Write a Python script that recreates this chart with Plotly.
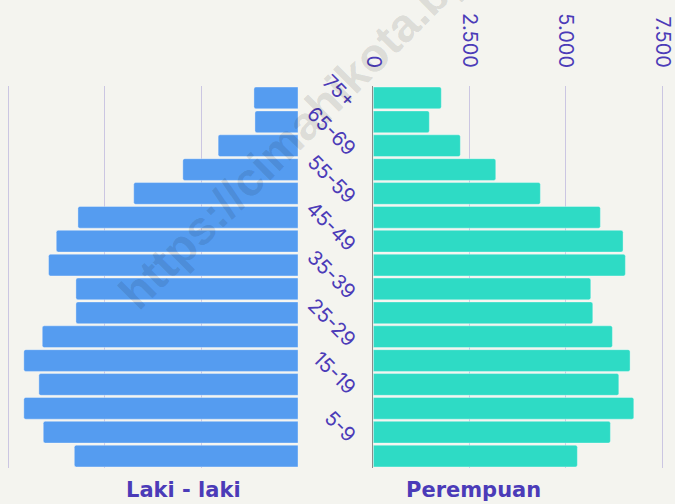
import plotly.graph_objects as go
from plotly.subplots import make_subplots

age_groups = ["0-4", "5-9", "10-14", "15-19", "20-24", "25-29", "30-34", "35-39",
              "40-44", "45-49", "50-54", "55-59", "60-64", "65-69", "70-74", "75+"]
laki_laki = [5785, 6588, 7091, 6702, 7091, 6614, 5744, 5744,
             6451, 6252, 5692, 4249, 2979, 2065, 1114, 1140]
perempuan = [5296, 6153, 6760, 6371, 6664, 6205, 5696, 5644,
             6542, 6482, 5893, 4336, 3178, 2259, 1454, 1765]
shown_age_labels = ["5-9", "15-19", "25-29", "35-39", "45-49", "55-59", "65-69", "75+"]
x_tick_vals = [0, 2500, 5000, 7500]
x_tick_text = ["0", "2.500", "5.000", "7.500"]

BLUE = "#559CF0"
TEAL = "#2EDBC5"
TXT = "#4B3BB8"
GRID = "#CBC6E2"
BG = "#F4F4EF"
FONT = "Inter, Roboto, DejaVu Sans, sans-serif"

W, H = 675, 504
ML, MR, MT, MB = 0, 0, 86, 36
pw = W - ML - MR
ph = H - MT - MB

def px(xp):
    return (xp - ML) / pw

def py(yp):
    return (H - MB - yp) / ph

XMAX = 7560
sl = (298 - 8) / 7500.0
sr = (662.3 - 373.3) / 7500.0
left_dom = [px(298 - XMAX * sl), px(298)]
right_dom = [px(373.3), px(373.3 + XMAX * sr)]

fig = make_subplots(rows=1, cols=2, shared_yaxes=False, horizontal_spacing=0)

fig.add_trace(go.Bar(
    y=age_groups, x=laki_laki, orientation="h", name="Laki - laki",
    marker=dict(color=BLUE, line=dict(color="rgba(255,255,255,0.35)", width=1), cornerradius=2),
    showlegend=False, hoverinfo="x+y"), row=1, col=1)
fig.add_trace(go.Bar(
    y=age_groups, x=perempuan, orientation="h", name="Perempuan",
    marker=dict(color=TEAL, line=dict(color="rgba(255,255,255,0.35)", width=1), cornerradius=2),
    showlegend=False, hoverinfo="x+y"), row=1, col=2)

fig.update_layout(
    template="none",
    width=W, height=H,
    margin=dict(l=ML, r=MR, t=MT, b=MB, pad=0),
    paper_bgcolor=BG, plot_bgcolor=BG,
    bargap=0.09,
    font=dict(family=FONT, color=TXT, size=20),
    xaxis=dict(domain=left_dom, range=[XMAX, 0], tickvals=x_tick_vals,
               showticklabels=False, showgrid=True, gridcolor=GRID, gridwidth=1,
               zeroline=False, showline=False, fixedrange=True, automargin=False, ticks=""),
    xaxis2=dict(domain=right_dom, range=[0, XMAX], side="top",
                tickvals=x_tick_vals, ticktext=x_tick_text, tickangle=90,
                ticks="", ticklabelstandoff=14, automargin=False,
                showgrid=True, gridcolor=GRID, gridwidth=1,
                zeroline=False, showline=False, fixedrange=True,
                tickfont=dict(family=FONT, color=TXT, size=20)),
    yaxis=dict(categoryorder="array", categoryarray=age_groups, automargin=False,
               showticklabels=False, showgrid=False, zeroline=False, showline=False, ticks=""),
    yaxis2=dict(categoryorder="array", categoryarray=age_groups, automargin=False,
                tickvals=shown_age_labels, ticktext=shown_age_labels,
                tickangle=45, ticks="", ticklabelstandoff=14, ticklabelshift=7,
                showgrid=False, zeroline=False,
                showline=True, linecolor="#8C8C8C", linewidth=1,
                tickfont=dict(family=FONT, color=TXT, size=20)),
)

fig.add_annotation(text="<b>Laki - laki</b>", x=px(183), y=py(490), xref="paper", yref="paper",
                   showarrow=False, xanchor="center", yanchor="middle",
                   font=dict(family="DejaVu Sans, sans-serif", size=21, color=TXT))
fig.add_annotation(text="<b>Perempuan</b>", x=px(473), y=py(490), xref="paper", yref="paper",
                   showarrow=False, xanchor="center", yanchor="middle",
                   font=dict(family="DejaVu Sans, sans-serif", size=21, color=TXT))

fig.add_annotation(text="<b>https://cimahikota.bps.go.id</b>", x=px(348), y=py(80),
                   xref="paper", yref="paper", showarrow=False, textangle=-45,
                   xanchor="center", yanchor="middle",
                   font=dict(family="Liberation Sans, Arial, sans-serif", size=47,
                             color="rgba(0,0,0,0.11)"))

fig.write_html("out.html", config={"displayModeBar": False},
               post_script="document.body.style.margin='0';")
